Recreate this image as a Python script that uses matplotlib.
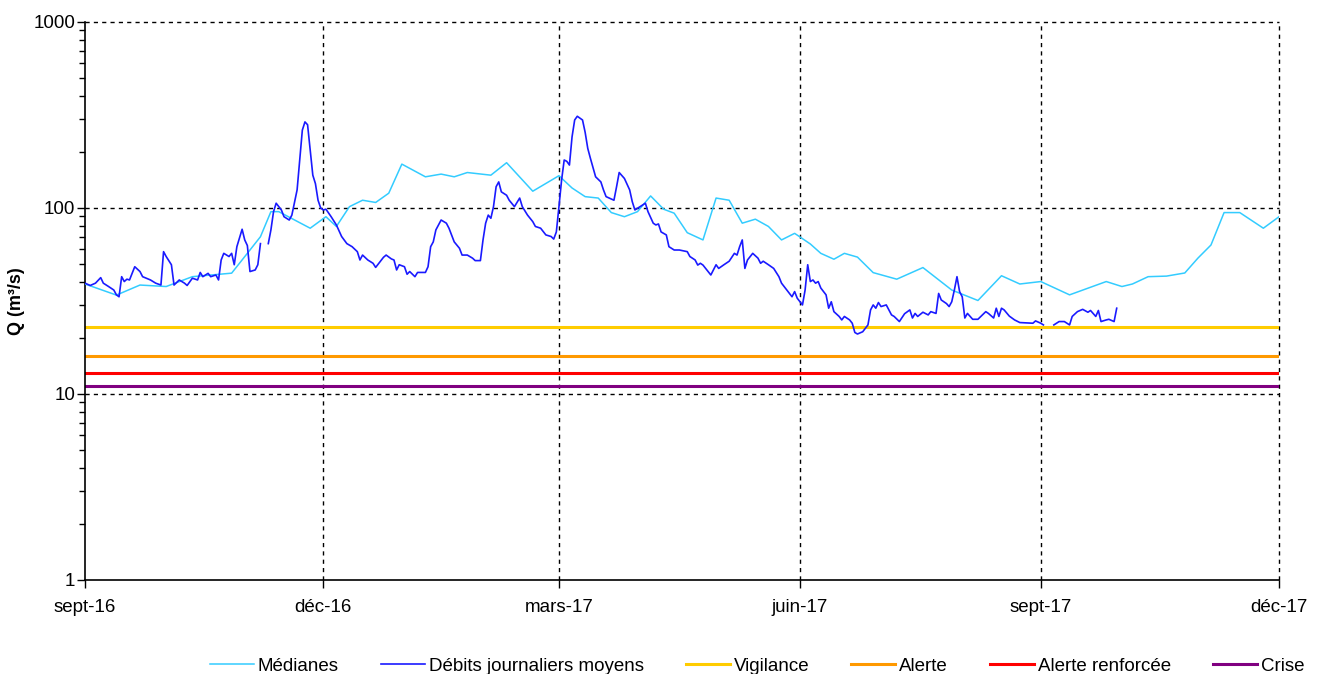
import numpy as np
import pandas as pd
import matplotlib
matplotlib.use('Agg')
import matplotlib.pyplot as plt
from matplotlib.ticker import FixedLocator, NullFormatter, FuncFormatter

plt.rcParams['font.family'] = ['Liberation Sans', 'DejaVu Sans']

debut = pd.Timestamp('2016-09-01')

# débits journaliers moyens (jours depuis le 01/09/2016, m3/s) - nan = lacune
jours_debits = [0, 2, 4, 6, 7, 9, 11, 12, 13, 14, 15, 16, 17, 19, 21, 22, 25, 27, 29, 30,
                31, 33, 34, 36, 38, 39, 41, 43, 44, 45, 47, 48, 50, 51, 52, 53, 55, 56, 57, 58,
                60, 61, 62, 63, 65, 66, 67, 68, 70, 71, 72, 73, 75, 76, 78, 79, 81, 82, 83, 84,
                85, 86, 87, 88, 89, 90, 91, 92, 94, 96, 98, 100, 102, 104, 105, 106, 108, 110, 111, 113,
                114, 115, 117, 118, 119, 120, 122, 123, 124, 126, 127, 130, 131, 132, 133, 134, 136, 138, 139, 141,
                143, 144, 146, 148, 149, 151, 152, 153, 154, 155, 156, 157, 158, 159, 161, 162, 164, 166, 167, 169,
                171, 172, 174, 176, 178, 179, 180, 181, 182, 183, 184, 185, 186, 187, 188, 190, 191, 192, 193, 195,
                197, 198, 199, 202, 203, 204, 206, 208, 209, 210, 212, 214, 215, 217, 218, 219, 220, 222, 223, 225,
                227, 230, 231, 233, 234, 235, 236, 239, 241, 242, 244, 246, 248, 249, 250, 251, 252, 253, 255, 257,
                258, 259, 261, 263, 265, 266, 268, 270, 271, 272, 274, 275, 276, 277, 278, 279, 280, 281, 283, 284,
                285, 286, 288, 289, 290, 292, 293, 294, 295, 297, 299, 300, 301, 302, 303, 304, 306, 308, 309, 311,
                313, 315, 316, 317, 318, 320, 322, 323, 325, 326, 327, 328, 329, 330, 331, 332, 333, 334, 335, 336,
                337, 339, 341, 344, 345, 347, 348, 349, 350, 351, 353, 355, 357, 362, 363, 365, 366, 367, 370, 372,
                374, 376, 377, 379, 381, 383, 384, 386, 387, 388, 390, 391, 393, 394]
debits = [39.4, 38.3, 39.4, 42.2, 39.4, 37.8, 36.2, 34.1, 33.3, 42.7, 40.2, 41.4, 41, 48.3, 45.5, 42.7, 41, 39.4, 38.5, 58.2,
          54.8, 49.5, 38.5, 41, 39.4, 38.3, 41.9, 41, 45, 42.7, 44.5, 42.7, 43.6, 41, 52.5, 57, 54.8, 57, 49.5, 61.9,
          76.8, 67.3, 62.8, 45.5, 46.4, 49.5, 64.3, np.nan, 64.3, 76.2, 95.5, 106, 97.5, 89.7, 86.1, 91.5, 125, 181, 262, 290,
          280, 205, 150, 135, 110, 100, 97.5, 98.5, 89.7, 81, 70.2, 64.3, 61.9, 58.2, 52.5, 55.8, 52.5, 50.4, 47.9, 52.1,
          54.3, 55.8, 53.2, 52.5, 46.4, 49.5, 48.3, 44, 45.5, 42.7, 45, 45, 48.3, 61.9, 65.7, 76.2, 86.1, 82.8, 77.8, 65.7,
          60.7, 55.8, 55.8, 53.7, 52.1, 52.1, 67.3, 82.8, 91.5, 88, 101.6, 130, 138, 122, 117, 110, 101.6, 113, 101.6, 91.5,
          84.4, 79.5, 77.8, 71.6, 70.2, 68, 74.3, 101.6, 141, 181, 178, 170, 241, 297, 311, 297, 255, 209, 185, 147,
          138, 125, 115, 110, 130, 155, 144, 125, 108, 97.5, 101.6, 106, 95.5, 82.8, 81, 82, 74.3, 71.6, 61.9, 59.4,
          59.4, 58.2, 54.8, 52.5, 49.3, 50.4, 49.3, 43.6, 49.5, 47.3, 49.5, 51.7, 57, 55.8, 61.9, 67.3, 47.3, 52.5, 57, 53.7,
          50.4, 51.7, 49.5, 47.3, 42.7, 39.4, 36.2, 33.3, 35.5, 32.7, 30.1, 36.2, 49.5, 40.2, 41, 39.4, 40.2, 37.1, 34.1, 28.9,
          31.3, 27.7, 26.1, 25, 26.1, 25, 24, 21.4, 21, 21.6, 23.5, 28.3, 30.1, 28.9, 31, 29.5, 30.1, 26.6, 26.1, 24.5,
          27, 28.3, 25.6, 27.1, 26.1, 27.5, 26.6, 27.7, 27.1, 34.7, 32, 31.3, 30.6, 29.5, 31.3, 36.2, 42.7, 35.5, 33.3, 25.6,
          27.1, 25.2, 25.2, 27.7, 27.1, 25.6, 28.9, 26.1, 28.9, 28.3, 26.2, 25, 24.2, 24, 24.7, 24, 23.5, np.nan, 23.5, 24.5,
          24.5, 23.5, 26.1, 27.7, 28.5, 27.5, 28.1, 26.1, 28.1, 24.5, 25, 25.2, 24.5, 28.9]

# médianes
jours_medianes = [0, 12, 21, 31, 41, 56, 63, 67, 71, 74, 86, 92, 96, 101, 106, 111, 116, 121, 130, 136,
                  141, 146, 155, 161, 171, 181, 186, 191, 196, 201, 206, 211, 216, 221, 225, 230, 236, 241, 246, 251,
                  256, 261, 266, 271, 277, 281, 286, 290, 295, 301, 310, 320, 331, 341, 350, 357, 365, 376, 390, 396,
                  400, 406, 413, 420, 425, 430, 435, 441, 450, 456]
medianes = [39, 34, 38.5, 37.8, 42.7, 44.6, 59.4, 70, 95.5, 95.5, 77.8, 89.7, 79.5, 101.6, 110, 107, 120, 172, 147, 152,
            147, 155, 150, 175, 123, 149, 128, 115, 113, 94.4, 89.7, 95.5, 116, 98.4, 93.7, 73.6, 67.3, 113, 110, 82.8,
            87, 79.5, 67.3, 73, 64, 57, 53, 57, 54.4, 44.9, 41.4, 47.8, 36.2, 31.8, 43.2, 39, 40.2, 34.1, 40.2, 37.8,
            39, 42.7, 43, 44.7, 53.7, 63.2, 94.4, 94.4, 77.8, 89.7]

# seuils
seuils_noms = ['Vigilance', 'Alerte', 'Alerte renforcée', 'Crise']
seuils_valeurs = [23, 16, 13, 11]
seuils_couleurs = ['#FFCC00', '#FF9900', '#FF0000', '#800080']

mois_ticks = ['2016-09-01', '2016-12-01', '2017-03-01', '2017-06-01', '2017-09-01', '2017-12-01']
mois_labels = ['sept-16', 'déc-16', 'mars-17', 'juin-17', 'sept-17', 'déc-17']

dates_debits = debut + pd.to_timedelta(jours_debits, unit='D')
dates_medianes = debut + pd.to_timedelta(jours_medianes, unit='D')
xmin = pd.Timestamp(mois_ticks[0])
xmax = pd.Timestamp(mois_ticks[-1])

fig = plt.figure(figsize=(13.26, 6.74), dpi=100)
ax = fig.add_axes([0.0641, 0.1395, 0.9005, 0.828])

ax.plot(dates_medianes, medianes, color='#33CCFF', lw=1.1, label='Médianes', zorder=3)
ax.plot(dates_debits, debits, color='#1A1AFF', lw=1.2, label='Débits journaliers moyens', zorder=4)
for nom, val, coul in zip(seuils_noms, seuils_valeurs, seuils_couleurs):
    ax.plot([xmin, xmax], [val, val], color=coul, lw=2.2, label=nom, zorder=2)

ax.set_yscale('log')
ax.set_ylim(1, 1000)
ax.set_xlim(xmin, xmax)

ax.yaxis.set_major_locator(FixedLocator([1, 10, 100, 1000]))
ax.yaxis.set_major_formatter(FuncFormatter(lambda v, p: '%d' % v))
ax.yaxis.set_minor_locator(FixedLocator([m * 10 ** e for e in range(3) for m in range(2, 10)]))
ax.yaxis.set_minor_formatter(NullFormatter())

ticks = pd.to_datetime(mois_ticks)
ax.set_xticks(ticks)
ax.set_xticklabels(mois_labels)

ax.tick_params(axis='both', which='major', direction='out', length=6, width=1, labelsize=13.5, color='black')
ax.tick_params(axis='y', which='minor', direction='out', length=4, width=1)
ax.tick_params(axis='y', pad=1)
ax.tick_params(axis='x', pad=8)

for s in ['top', 'right']:
    ax.spines[s].set_visible(False)
for s in ['left', 'bottom']:
    ax.spines[s].set_linewidth(1.2)

# grille pointillée
for v in [10, 100, 1000]:
    ax.axhline(v, color='black', lw=1, ls=(0, (3, 3)), zorder=1, clip_on=False)
for t in ticks[1:]:
    ax.axvline(t, color='black', lw=1, ls=(0, (3, 3)), zorder=1, clip_on=False)

ax.set_ylabel('Q (m³/s)', fontsize=13, fontweight='bold')
ax.yaxis.set_label_coords(-0.05, 0.5)

fig.legend(loc='lower center', bbox_to_anchor=(0.571, -0.026), ncol=6, frameon=False,
           fontsize=13.5, handlelength=2.35, columnspacing=2.25, handletextpad=0.2)

plt.savefig('out.png', dpi=100)
